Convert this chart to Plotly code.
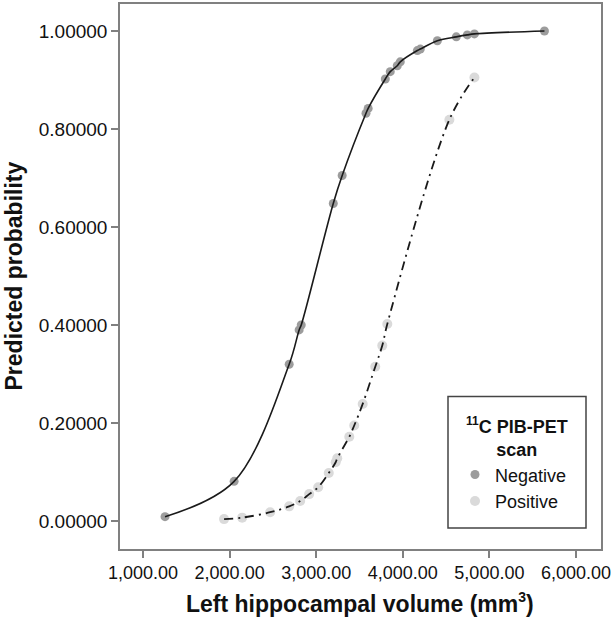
import plotly.graph_objects as go

# Negative 11C PIB-PET scan: left hippocampal volume (mm3) and predicted probability
neg_volume = [1254, 2052, 2688, 2803, 2827, 3197, 3300, 3575, 3600, 3798, 3855,
              3936, 3971, 4168, 4202, 4399, 4618, 4745, 4827, 5636]
neg_prob = [0.009, 0.081, 0.320, 0.390, 0.400, 0.648, 0.705, 0.832, 0.842, 0.902, 0.917,
            0.929, 0.937, 0.960, 0.963, 0.980, 0.988, 0.992, 0.994, 1.000]

# Positive 11C PIB-PET scan
pos_volume = [1936, 2145, 2468, 2688, 2815, 2919, 3023, 3145, 3225, 3243, 3382,
              3439, 3537, 3682, 3763, 3821, 4538, 4827]
pos_prob = [0.004, 0.007, 0.018, 0.030, 0.041, 0.055, 0.069, 0.098, 0.120, 0.128, 0.172,
            0.195, 0.239, 0.315, 0.358, 0.402, 0.819, 0.905]

x_ticks = [1000, 2000, 3000, 4000, 5000, 6000]
y_ticks = [0.0, 0.2, 0.4, 0.6, 0.8, 1.0]

legend_title = "<b><sup><span style='font-size:12px'>11</span></sup>C PIB-PET<br>scan</b>"
x_title = "<b>Left hippocampal volume (mm<sup><span style='font-size:14px'>3</span></sup>)</b>"
y_title = "<b>Predicted probability</b>"

FONT = "Liberation Sans, Arial, sans-serif"

# plot area in pixels
L, T, W, H = 120, 2, 481, 547


def px_x(p):
    return (p - L) / W


def px_y(p):
    return (T + H - p) / H


fig = go.Figure()

fig.add_trace(go.Scatter(
    x=neg_volume, y=neg_prob, mode="markers", name="Negative",
    marker=dict(color="#9c9c9c", size=9),
))
fig.add_trace(go.Scatter(
    x=pos_volume, y=pos_prob, mode="markers", name="Positive",
    marker=dict(color="#dadada", size=10),
))
fig.add_trace(go.Scatter(
    x=neg_volume, y=neg_prob, mode="lines", showlegend=False,
    line=dict(color="#1a1a1a", width=1.6, shape="spline", smoothing=1),
    hoverinfo="skip",
))
fig.add_trace(go.Scatter(
    x=pos_volume, y=pos_prob, mode="lines", showlegend=False,
    line=dict(color="#1a1a1a", width=1.8, shape="spline", smoothing=1,
              dash="9px,5px,2px,5px"),
    hoverinfo="skip",
))

axis_common = dict(
    showline=True, mirror=True, linecolor="#808080", linewidth=1.5,
    ticks="outside", ticklen=7, tickwidth=1.5, tickcolor="#808080",
    showgrid=False, zeroline=False,
)

fig.update_xaxes(range=[734, 6289], tickvals=x_ticks, tickformat=",.2f",
                 tickfont=dict(family=FONT, size=18, color="#111111"), **axis_common)
fig.update_yaxes(range=[-0.057, 1.055], tickvals=y_ticks, tickformat=".5f",
                 tickfont=dict(family=FONT, size=19, color="#111111"), **axis_common)

fig.update_layout(
    width=614, height=621,
    margin=dict(l=L, r=614 - L - W, t=T, b=621 - T - H),
    plot_bgcolor="white", paper_bgcolor="white",
    showlegend=True,
    legend=dict(
        x=px_x(455), y=px_y(456), xanchor="left", yanchor="top",
        borderwidth=0, bgcolor="rgba(0,0,0,0)",
        font=dict(family=FONT, size=18, color="#111111"),
        itemsizing="trace",
        tracegroupgap=0,
    ),
    shapes=[
        dict(type="rect", xref="paper", yref="paper",
             x0=px_x(448), x1=px_x(586), y0=px_y(528), y1=px_y(396),
             line=dict(color="#444444", width=1.5), fillcolor="white", layer="above"),
    ],
    annotations=[
        dict(text=legend_title, xref="paper", yref="paper",
             x=px_x(517), y=px_y(437), xanchor="center", yanchor="middle", align="center",
             showarrow=False, font=dict(family=FONT, size=18, color="#111111")),
        dict(text=x_title, xref="paper", yref="paper",
             x=px_x(360), y=px_y(603), xanchor="center", yanchor="middle",
             showarrow=False, font=dict(family=FONT, size=23, color="#111111")),
        dict(text=y_title, xref="paper", yref="paper",
             x=px_x(13), y=0.5, xanchor="center", yanchor="middle", textangle=-90,
             showarrow=False, font=dict(family=FONT, size=23, color="#111111")),
    ],
)

fig.write_html("out.html", post_script="document.body.style.margin='0px';",
               config={"displayModeBar": False})
